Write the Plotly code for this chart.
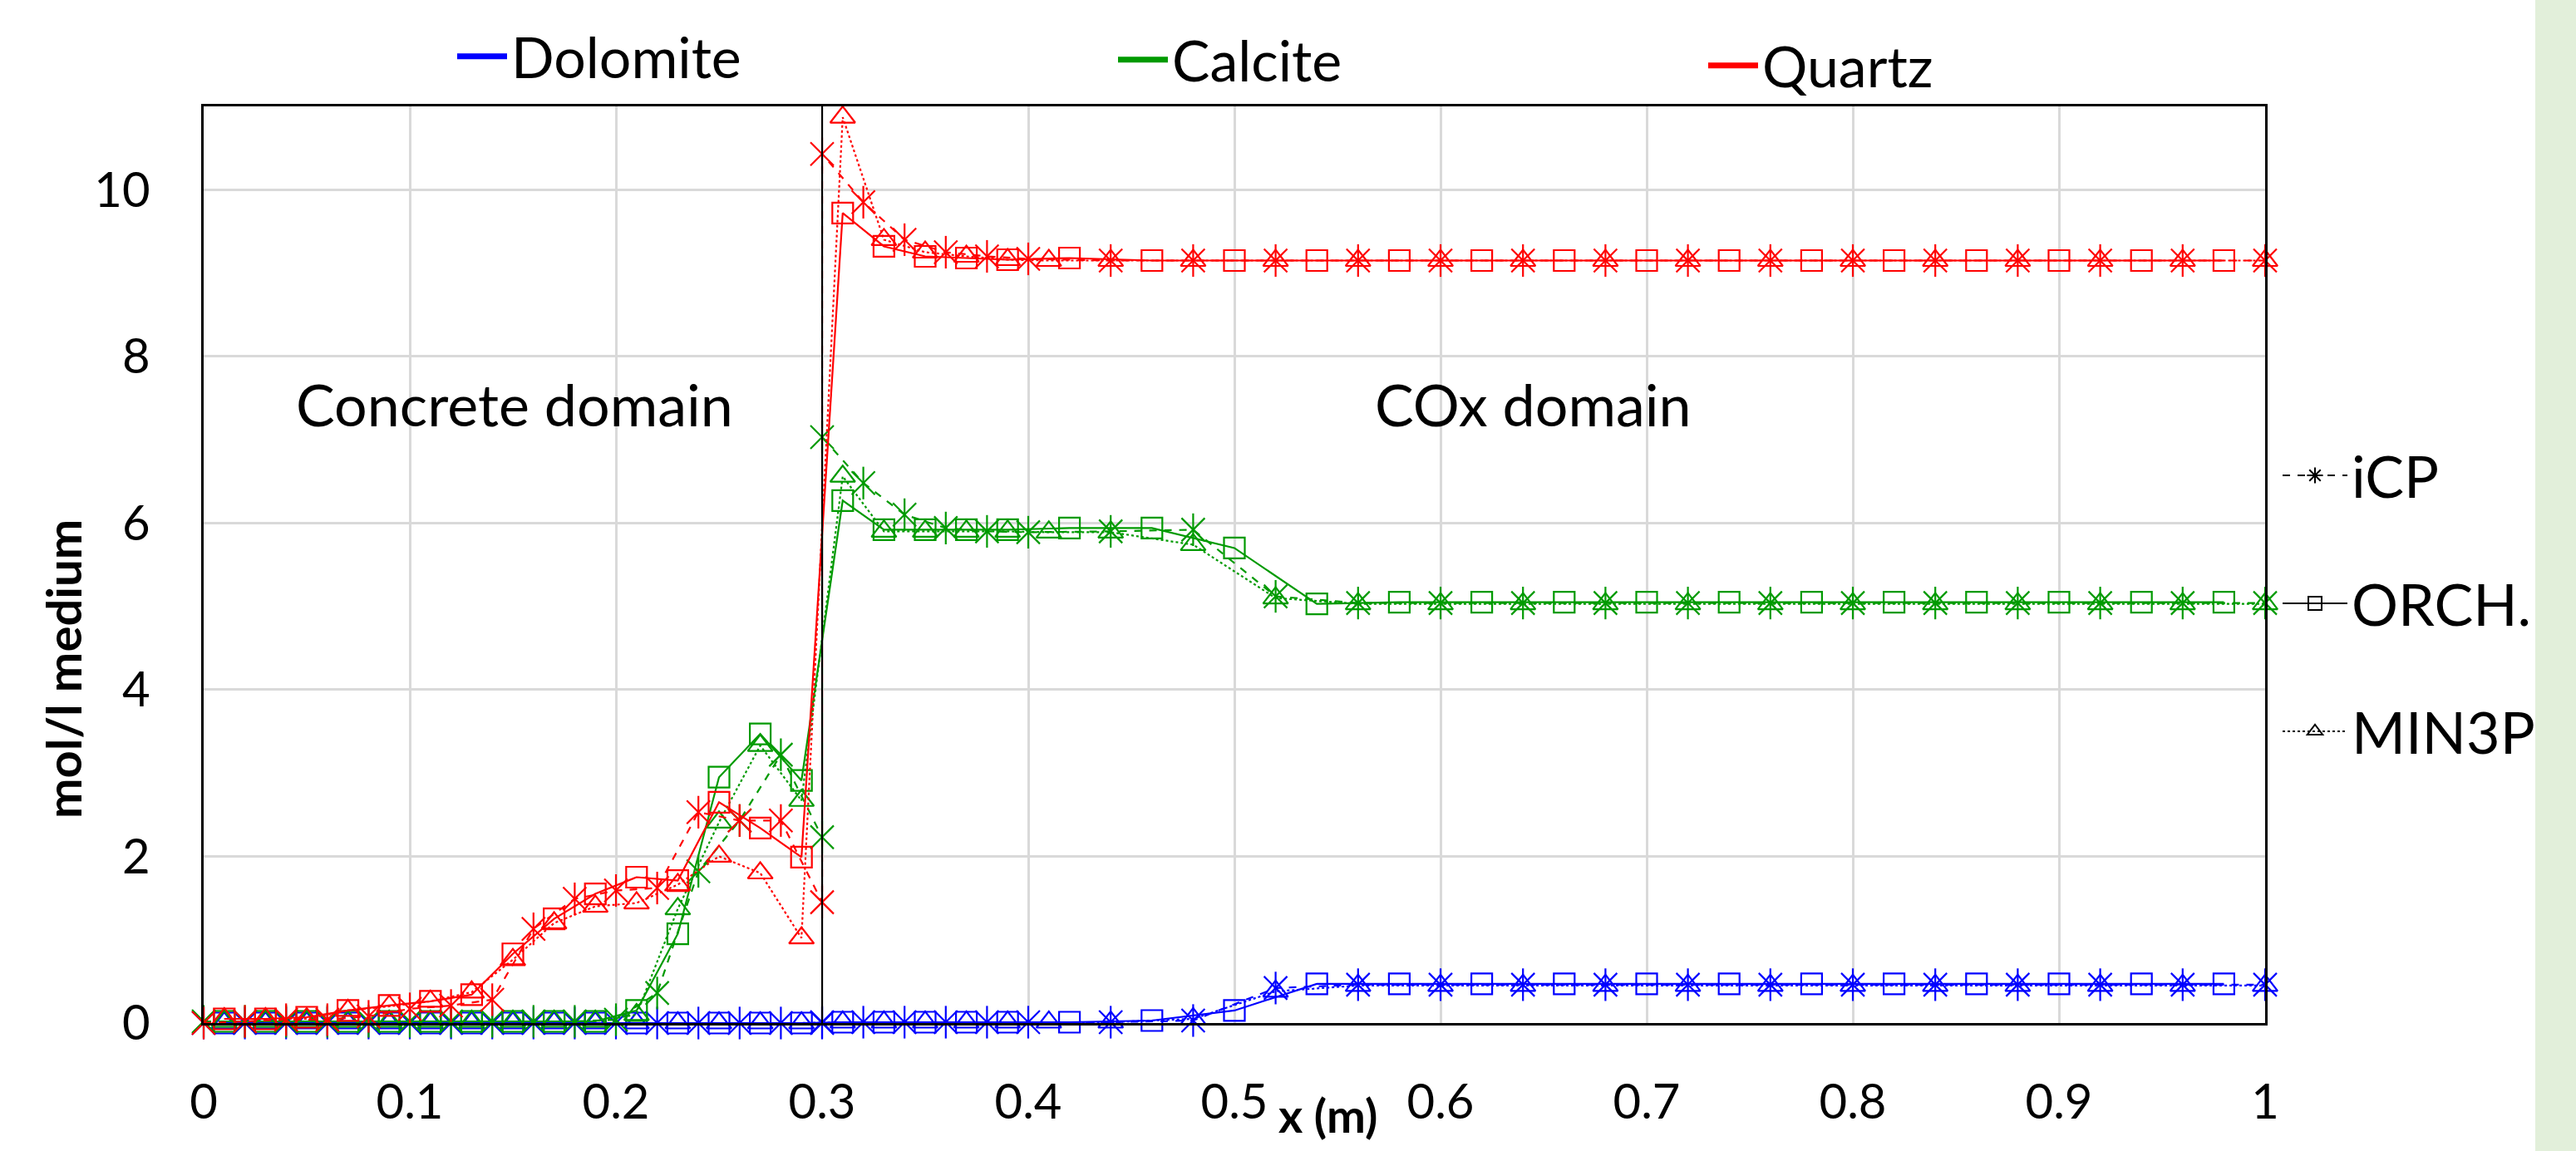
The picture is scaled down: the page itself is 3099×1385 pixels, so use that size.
import plotly.graph_objects as go

# ---------------- data ----------------
# iCP sampling (x = 0.30 appears twice: concrete side / COx side)
x_icp = [0.00, 0.02, 0.04, 0.06, 0.08, 0.10, 0.12, 0.14, 0.16, 0.18, 0.20, 0.22, 0.24, 0.26, 0.28, 0.30,
         0.30, 0.32, 0.34, 0.36, 0.38, 0.40,
         0.44, 0.48, 0.52, 0.56, 0.60, 0.64, 0.68, 0.72, 0.76, 0.80, 0.84, 0.88, 0.92, 0.96, 1.00]
quartz_icp = [0.00, 0.02, 0.04, 0.04, 0.08, 0.17, 0.21, 0.28, 1.13, 1.49, 1.59, 1.62, 2.53, 2.43, 2.43, 1.45,
              10.43, 9.85, 9.40, 9.25, 9.20, 9.17,
              9.15, 9.15, 9.15, 9.15, 9.15, 9.15, 9.15, 9.15, 9.15, 9.15, 9.15, 9.15, 9.15, 9.15, 9.15]
calcite_icp = [0.02, 0.02, 0.02, 0.02, 0.02, 0.02, 0.02, 0.02, 0.02, 0.02, 0.04, 0.36, 1.82, 2.43, 3.22, 2.23,
               7.03, 6.48, 6.10, 5.94, 5.90, 5.89,
               5.90, 5.92, 5.12, 5.04, 5.04, 5.04, 5.04, 5.04, 5.04, 5.04, 5.04, 5.04, 5.04, 5.04, 5.04]
dolomite_icp = [0.00, 0.00, 0.00, 0.00, 0.00, 0.00, 0.00, 0.00, 0.00, 0.00, 0.00, 0.00, 0.00, 0.00, 0.00, 0.00,
                0.01, 0.01, 0.01, 0.01, 0.01, 0.01,
                0.01, 0.03, 0.42, 0.46, 0.46, 0.46, 0.46, 0.46, 0.46, 0.46, 0.46, 0.46, 0.46, 0.46, 0.46]

# ORCHESTRA sampling
x_orch = [0.01, 0.03, 0.05, 0.07, 0.09, 0.11, 0.13, 0.15, 0.17, 0.19, 0.21, 0.23, 0.25, 0.27, 0.29,
          0.31, 0.33, 0.35, 0.37, 0.39,
          0.42, 0.46, 0.50, 0.54, 0.58, 0.62, 0.66, 0.70, 0.74, 0.78, 0.82, 0.86, 0.90, 0.94, 0.98]
quartz_orch = [0.05, 0.05, 0.07, 0.15, 0.21, 0.26, 0.34, 0.83, 1.25, 1.55, 1.75, 1.71, 2.65, 2.34, 1.99,
               9.72, 9.32, 9.20, 9.18, 9.16,
               9.18, 9.15, 9.15, 9.15, 9.15, 9.15, 9.15, 9.15, 9.15, 9.15, 9.15, 9.15, 9.15, 9.15, 9.15]
calcite_orch = [0.02, 0.02, 0.02, 0.02, 0.02, 0.02, 0.02, 0.02, 0.02, 0.02, 0.15, 1.07, 2.95, 3.47, 2.91,
                6.27, 5.92, 5.92, 5.92, 5.92,
                5.94, 5.94, 5.70, 5.03, 5.05, 5.05, 5.05, 5.05, 5.05, 5.05, 5.05, 5.05, 5.05, 5.05, 5.05]
dolomite_orch = [0.00, 0.00, 0.00, 0.00, 0.00, 0.00, 0.00, 0.00, 0.00, 0.00, 0.00, 0.00, 0.00, 0.00, 0.00,
                 0.01, 0.01, 0.01, 0.01, 0.01,
                 0.01, 0.03, 0.15, 0.47, 0.47, 0.47, 0.47, 0.47, 0.47, 0.47, 0.47, 0.47, 0.47, 0.47, 0.47]

# MIN3P sampling
x_min3p = [0.01, 0.03, 0.05, 0.07, 0.09, 0.11, 0.13, 0.15, 0.17, 0.19, 0.21, 0.23, 0.25, 0.27, 0.29,
           0.31, 0.33, 0.35, 0.37, 0.39, 0.41,
           0.44, 0.48, 0.52, 0.56, 0.60, 0.64, 0.68, 0.72, 0.76, 0.80, 0.84, 0.88, 0.92, 0.96, 1.00]
quartz_min3p = [0.05, 0.05, 0.05, 0.15, 0.20, 0.26, 0.37, 0.76, 1.20, 1.40, 1.44, 1.66, 2.00, 1.80, 1.02,
                10.87, 9.40, 9.25, 9.20, 9.16, 9.15,
                9.15, 9.15, 9.15, 9.15, 9.15, 9.15, 9.15, 9.15, 9.15, 9.15, 9.15, 9.15, 9.15, 9.15, 9.15]
calcite_min3p = [0.02, 0.02, 0.02, 0.02, 0.02, 0.02, 0.02, 0.02, 0.02, 0.02, 0.10, 1.37, 2.41, 3.33, 2.67,
                 6.56, 5.90, 5.90, 5.90, 5.90, 5.89,
                 5.89, 5.74, 5.10, 5.03, 5.03, 5.03, 5.03, 5.03, 5.03, 5.03, 5.03, 5.03, 5.03, 5.03, 5.03]
dolomite_min3p = [0.00, 0.00, 0.00, 0.00, 0.00, 0.00, 0.00, 0.00, 0.00, 0.00, 0.00, 0.00, 0.00, 0.00, 0.00,
                  0.01, 0.01, 0.01, 0.01, 0.01, 0.01,
                  0.01, 0.05, 0.38, 0.45, 0.45, 0.45, 0.45, 0.45, 0.45, 0.45, 0.45, 0.45, 0.45, 0.45, 0.45]

minerals = ["Dolomite", "Calcite", "Quartz"]
models = ["iCP", "ORCH.", "MIN3P"]
x_ticks = [0, 0.1, 0.2, 0.3, 0.4, 0.5, 0.6, 0.7, 0.8, 0.9, 1]
y_ticks = [0, 2, 4, 6, 8, 10]

# ---------------- styling ----------------
FONT = "Lato, 'Open Sans', sans-serif"
colors = {"Dolomite": "#0000FF", "Calcite": "#009A00", "Quartz": "#FF0000"}
series = {
    "Dolomite": [(x_icp, dolomite_icp), (x_orch, dolomite_orch), (x_min3p, dolomite_min3p)],
    "Calcite": [(x_icp, calcite_icp), (x_orch, calcite_orch), (x_min3p, calcite_min3p)],
    "Quartz": [(x_icp, quartz_icp), (x_orch, quartz_orch), (x_min3p, quartz_min3p)],
}
LW = 2.2
MS = 26

fig = go.Figure()

for m in minerals:
    c = colors[m]
    (xi, yi), (xo, yo), (xm, ym) = series[m]
    # iCP: dashed line + star marker (x plus vertical bar)
    fig.add_trace(go.Scatter(x=xi, y=yi, mode="lines+markers", showlegend=False, cliponaxis=False,
                             line=dict(color=c, width=LW, dash="dash"),
                             marker=dict(symbol="x-thin-open", size=MS + 2, color=c,
                                         line=dict(color=c, width=2.2))))
    fig.add_trace(go.Scatter(x=xi, y=yi, mode="markers", showlegend=False, cliponaxis=False,
                             marker=dict(symbol="line-ns-open", size=MS + 2, color=c,
                                         line=dict(color=c, width=2.2))))
    # ORCHESTRA: solid line + open square
    fig.add_trace(go.Scatter(x=xo, y=yo, mode="lines+markers", showlegend=False, cliponaxis=False,
                             line=dict(color=c, width=LW),
                             marker=dict(symbol="square-open", size=MS - 1, color=c,
                                         line=dict(color=c, width=2.2))))
    # MIN3P: dotted line + open triangle
    fig.add_trace(go.Scatter(x=xm, y=ym, mode="lines+markers", showlegend=False, cliponaxis=False,
                             line=dict(color=c, width=LW, dash="dot"),
                             marker=dict(symbol="triangle-up-open", size=MS, color=c,
                                         line=dict(color=c, width=2.2))))

# legend entries: minerals (top), models (right)
legend_names = ["legend", "legend2", "legend3"]
for m, ln in zip(minerals, legend_names):
    fig.add_trace(go.Scatter(x=[None], y=[None], mode="lines", name=m, legend=ln,
                             line=dict(color=colors[m], width=7)))

model_styles = [("dash", "asterisk-open"), ("solid", "square-open"), ("dot", "triangle-up-open")]
for name, (dash, sym) in zip(models, model_styles):
    fig.add_trace(go.Scatter(x=[None], y=[None], mode="lines+markers", name=name, legend="legend4",
                             legendgroup=name,
                             line=dict(color="black", width=2, dash=dash),
                             marker=dict(symbol=sym, size=16, color="black",
                                         line=dict(color="black", width=2))))

# plot area in pixels: x 245..2725, y 128..1231
L, R, T, B = 245, 3099 - 2725, 128, 1385 - 1231
PW, PH = 2725 - 245, 1231 - 128


def px(xpix):
    return (xpix - L) / PW


def py(ypix):
    return (T + PH - ypix) / PH


legend_font = dict(family=FONT, size=68, color="black")
common_leg = dict(orientation="v", bgcolor="rgba(0,0,0,0)", borderwidth=0, itemwidth=60,
                  xanchor="left", yanchor="middle", font=legend_font, itemclick=False)

fig.update_layout(
    width=3099, height=1385,
    margin=dict(l=L, r=R, t=T, b=B, pad=0),
    paper_bgcolor="white", plot_bgcolor="white",
    font=dict(family=FONT, color="black"),
    legend=dict(**common_leg, x=px(545), y=py(68)),
    legend2=dict(**common_leg, x=px(1340), y=py(72)),
    legend3=dict(**common_leg, x=px(2050), y=py(79)),
    legend4=dict(orientation="v", bgcolor="rgba(0,0,0,0)", borderwidth=0, itemwidth=78,
                 xanchor="left", yanchor="top", x=px(2741), y=py(520),
                 font=dict(family=FONT, size=70, color="black"), tracegroupgap=60, itemclick=False),
    xaxis=dict(range=[0, 1], tickvals=x_ticks, ticktext=[str(t) for t in x_ticks],
               showgrid=True, gridcolor="#d9d9d9", gridwidth=2.5,
               showline=True, linecolor="black", linewidth=3, mirror=True,
               ticks="", ticklabelstandoff=42, zeroline=False,
               tickfont=dict(family=FONT, size=58, color="black")),
    yaxis=dict(range=[0, 11], tickvals=y_ticks, ticktext=[str(t) for t in y_ticks],
               showgrid=True, gridcolor="#d9d9d9", gridwidth=2.5,
               showline=True, linecolor="black", linewidth=2.5, mirror=True,
               ticks="", ticklabelstandoff=50, zeroline=False,
               tickfont=dict(family=FONT, size=58, color="black")),
    shapes=[
        # interface between domains
        dict(type="line", xref="x", yref="y", x0=0.3, x1=0.3, y0=0, y1=11,
             line=dict(color="black", width=2)),
        # light green strip on the right edge
        dict(type="rect", xref="paper", yref="paper", x0=px(3050), x1=px(3110), y0=py(1400), y1=py(-10),
             fillcolor="#E2EFDA", line=dict(width=0), layer="below"),
    ],
    annotations=[
        dict(text="Concrete domain", x=0.151, y=7.43, xref="x", yref="y", showarrow=False,
             xanchor="center", yanchor="middle",
             font=dict(family=FONT, size=70, color="black")),
        dict(text="COx domain", x=0.645, y=7.43, xref="x", yref="y", showarrow=False,
             xanchor="center", yanchor="middle",
             font=dict(family=FONT, size=70, color="black")),
        dict(text="<b>x (m)</b>", x=px(1597), y=py(1342), xref="paper", yref="paper", showarrow=False,
             xanchor="center", yanchor="middle",
             font=dict(family=FONT, size=56, color="black")),
        dict(text="<b>mol/l medium</b>", x=px(75), y=py(805), xref="paper", yref="paper", showarrow=False,
             xanchor="center", yanchor="middle",
             textangle=-90, font=dict(family=FONT, size=58, color="black")),
    ],
)

fig.write_html("out.html")
